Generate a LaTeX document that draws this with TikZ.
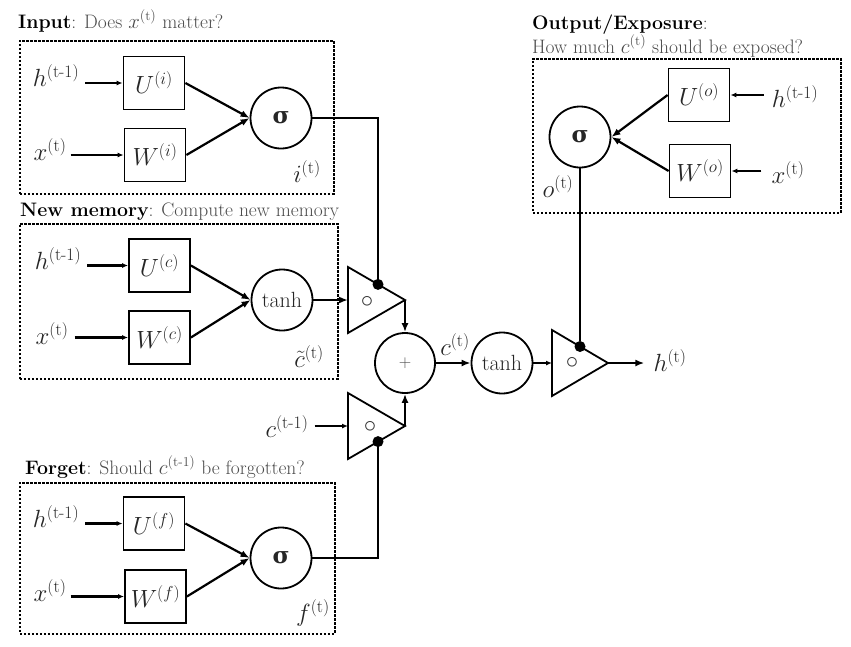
\documentclass[tikz,border=0pt]{standalone}
\usepackage{amsmath}
\usepackage{fontspec}
\newfontfamily\grk{DejaVu Serif}
\usetikzlibrary{arrows.meta}
\begin{document}
\begin{tikzpicture}[x=1pt,y=-1pt,
  lbl/.style={font=\fontsize{25}{29}\selectfont, inner sep=0pt, text=black!85},
  wbox/.style={draw, line width=1.8pt, minimum width=61pt, minimum height=53pt, inner sep=0pt, font=\fontsize{25}{29}\selectfont, text=black!85},
  unit/.style={draw, circle, line width=1.8pt, minimum size=61pt, inner sep=0pt, text=black!85},
  sig/.style={unit, font=\grk\bfseries\fontsize{23}{27}\selectfont},
  th/.style={unit, font=\fontsize{22}{25}\selectfont},
  grp/.style={draw, line width=1.8pt, dash pattern=on 2.5pt off 1.5pt, inner sep=0pt, anchor=north west},
  title/.style={anchor=west, font=\fontsize{19.5}{22}\selectfont, text=black!70, inner sep=0pt},
  conn/.style={line width=2.2pt},
  arr/.style={conn, -{Latex[length=9pt,width=7pt]}},
  sarr/.style={conn, -{Latex[length=6pt,width=5pt]}},
  tri/.style={line width=1.8pt, line join=miter},
  dot/.style={circle, fill, inner sep=0pt, minimum size=11pt},
  had/.style={inner sep=0pt, font=\fontsize{27}{30}\selectfont, text=black!80},
]
\useasboundingbox (0,0) rectangle (851,646);

% ---------- Input gate ----------
\node[title] (ititle) at (18,21) {\textcolor{black}{\bfseries Input}: Does $x^{(\text{t})}$ matter?};
\node[grp, minimum width=314pt, minimum height=153pt] (ibox) at (19,40) {};
\node[wbox] (ui) at (154,83) {$U^{(i)}$};
\node[wbox] (wi) at (155,155) {$W^{(i)}$};
\node[lbl] (hi) at (56,76) {$h^{(\text{t-1})}$};
\node[lbl] (xi) at (50,150) {$x^{(\text{t})}$};
\node[sig] (si) at (281,118) {σ};
\node[lbl] (il) at (307,172) {$i^{(\text{t})}$};
\draw[sarr] ([xshift=6pt]hi.east |- ui.west) -- (ui.west);
\draw[sarr] ([xshift=4pt]xi.east |- wi.west) -- ([yshift=0pt]wi.west);
\draw[arr] (ui.east) -- (si.west);
\draw[arr] (wi.east) -- (si.west);

% ---------- New memory ----------
\node[title] (ctitle) at (20,212) {\textcolor{black}{\bfseries New memory}: Compute new memory};
\node[grp, minimum width=318pt, minimum height=155pt] (cbox) at (19,223) {};
\node[wbox] (uc) at (159.5,265.5) {$U^{(c)}$};
\node[wbox] (wc) at (159.5,337.5) {$W^{(c)}$};
\node[lbl] (hc) at (58,259) {$h^{(\text{t-1})}$};
\node[lbl] (xc) at (52,334) {$x^{(\text{t})}$};
\node[th] (tc) at (282,300) {tanh};
\node[lbl] (cl) at (309,357) {$\tilde{c}^{(\text{t})}$};
\draw[sarr] ([xshift=6pt]hc.east |- uc.west) -- (uc.west);
\draw[sarr] ([xshift=6pt]xc.east |- wc.west) -- (wc.west);
\draw[arr] (uc.east) -- (tc.west);
\draw[arr] (wc.east) -- (tc.west);

% ---------- Forget gate ----------
\node[title] (ftitle) at (25,467) {\textcolor{black}{\bfseries Forget}: Should $c^{(\text{t-1})}$ be forgotten?};
\node[grp, minimum width=315pt, minimum height=151pt] (fbox) at (19,482) {};
\node[wbox] (uf) at (154,523.5) {$U^{(f)}$};
\node[wbox] (wf) at (155.5,596.5) {$W^{(f)}$};
\node[lbl] (hf) at (56,517) {$h^{(\text{t-1})}$};
\node[lbl] (xf) at (50,591) {$x^{(\text{t})}$};
\node[sig] (sf) at (281,558) {σ};
\node[lbl] (fl) at (313,613) {$f^{(\text{t})}$};
\draw[sarr] ([xshift=6pt]hf.east |- uf.west) -- (uf.west);
\draw[sarr] ([xshift=4pt]xf.east |- wf.west) -- (wf.west);
\draw[arr] (uf.east) -- (sf.west);
\draw[arr] (wf.east) -- (sf.west);

% ---------- Output gate ----------
\node[title] (otitle) at (532,25) {\textcolor{black}{\bfseries Output/Exposure}:};
\node[title] (otitle2) at (532,46) {How much $c^{(\text{t})}$ should be exposed?};
\node[grp, minimum width=308pt, minimum height=154pt] (obox) at (532,58) {};
\node[sig] (so) at (580,137) {σ};
\node[wbox] (uo) at (699,95) {$U^{(o)}$};
\node[wbox] (wo) at (700,171) {$W^{(o)}$};
\node[lbl] (ho) at (795,97) {$h^{(\text{t-1})}$};
\node[lbl] (xo) at (788,173) {$x^{(\text{t})}$};
\node[lbl] (ol) at (558,187) {$o^{(\text{t})}$};
\draw[sarr] ([xshift=-8pt]ho.west |- uo.east) -- (uo.east);
\draw[sarr] ([xshift=-10pt]xo.west |- wo.east) -- (wo.east);
\draw[arr] (uo.west) -- (so.east);
\draw[arr] (wo.west) -- (so.east);

% ---------- Hadamard gates ----------
% input gate multiplier
\coordinate (gi-l) at (348,300);
\coordinate (gi-t) at (348,267);
\coordinate (gi-b) at (348,333);
\coordinate (gi-tip) at (405,300);
\draw[tri] (gi-t) -- (gi-tip) -- (gi-b) -- cycle;
\node[had] (gi-o) at (367,302) {$\circ$};
\node[dot] (gi-dot) at (378,284.4) {};
% forget gate multiplier
\coordinate (gf-l) at (348,426);
\coordinate (gf-t) at (348,393);
\coordinate (gf-b) at (348,459);
\coordinate (gf-tip) at (405,426);
\draw[tri] (gf-t) -- (gf-tip) -- (gf-b) -- cycle;
\node[had] (gf-o) at (370,427) {$\circ$};
\node[dot] (gf-dot) at (378,441.6) {};
% output gate multiplier
\coordinate (go-l) at (552,363);
\coordinate (go-t) at (552,330);
\coordinate (go-b) at (552,396);
\coordinate (go-tip) at (608,363);
\draw[tri] (go-t) -- (go-tip) -- (go-b) -- cycle;
\node[had] (go-o) at (572,363) {$\circ$};
\node[dot] (go-dot) at (580,346.5) {};

% ---------- cell ----------
\node[unit, minimum size=60pt, font=\fontsize{18}{21}\selectfont, text=black!70] (pl) at (405,363) {$+$};
\node[th] (t2) at (502,363) {tanh};
\node[lbl] (ct) at (455,345) {$c^{(\text{t})}$};
\node[lbl] (cp) at (287,427) {$c^{(\text{t-1})}$};
\node[lbl] (hout) at (670,361) {$h^{(\text{t})}$};

% ---------- connectors ----------
\draw[conn] (si.east) -| (gi-dot);
\draw[conn] (sf.east) -| (gf-dot);
\draw[conn] (so.south) -- (go-dot);
\draw[arr] (tc.east) -- (gi-l);
\draw[sarr] ([xshift=6pt]cp.east |- gf-l) -- (gf-l);
\draw[arr] (gi-tip) -- (pl.north);
\draw[arr] (gf-tip) -- (pl.south);
\draw[arr] (pl.east) -- (t2.west);
\draw[sarr] (t2.east) -- (go-l);
\draw[arr] (go-tip) -- ([xshift=-9pt]hout.west |- go-tip);
\end{tikzpicture}
\end{document}
